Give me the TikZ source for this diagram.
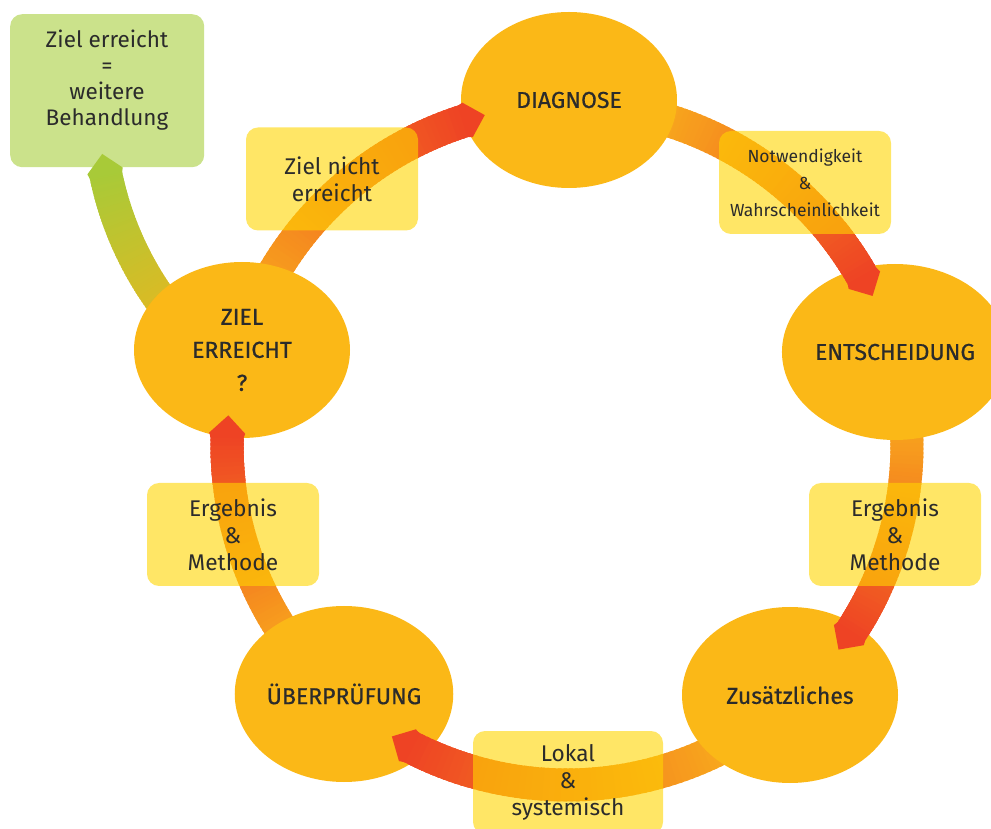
\documentclass[tikz,border=0pt]{standalone}
\usepackage{fontspec}
\setmainfont{Fira Sans}
\newfontfamily\medfont[FakeBold=0.6]{Fira Sans}
\usetikzlibrary{shapes.geometric,calc}
\definecolor{ellfill}{HTML}{FBB817}
\definecolor{boxfill}{HTML}{FFD500}
\definecolor{greenbox}{HTML}{CBE28B}
\definecolor{arrA}{HTML}{F9B11C}
\definecolor{arrB}{HTML}{EE4324}
\definecolor{grnA}{HTML}{EBB61E}
\definecolor{grnB}{HTML}{A8CA38}
\definecolor{txt}{HTML}{2B2B2B}

% gradient band along an arc: center, radius, start angle, end angle, colour0, colour1, first segment index
\newcommand\bandarc[7]{%
 \foreach \i in {#7,...,59}{%
  \pgfmathsetmacro\aa{#3+(#4-#3)*\i/60}%
  \pgfmathsetmacro\ab{#3+(#4-#3)*min(\i+1.6,60)/60}%
  \pgfmathtruncatemacro\pp{round(100*\i/59)}%
  \draw[line width=33pt,color={#6!\pp!#5}] (#1) ++(\aa:#2pt) arc[start angle=\aa,end angle=\ab,radius=#2pt];
 }}
% arrow tip: center, radius, shaft end angle, tip angle, colour
\newcommand\bandtip[5]{%
 \pgfmathsetmacro\ro{#2+18}\pgfmathsetmacro\ri{#2-18}%
 \pgfmathsetmacro\rso{#2+16.5}\pgfmathsetmacro\rsi{#2-16.5}%
 \pgfmathsetmacro\bk{#3+0.8*(#3-#4)/abs(#3-#4)}%
 \fill[#5] ($(#1)+(\bk:\rso pt)$) -- ($(#1)+(#3:\ro pt)$) -- ($(#1)+(#4:#2pt)$) -- ($(#1)+(#3:\ri pt)$) -- ($(#1)+(\bk:\rsi pt)$) -- cycle;}

\begin{document}
\begin{tikzpicture}[x=1pt,y=1pt,
 ell/.style={ellipse, fill=ellfill, minimum width=216pt, minimum height=176pt, inner sep=0pt, text=txt, font=\medfont\fontsize{23}{33}\selectfont, align=center},
 lbl/.style={rounded corners=12pt, fill=boxfill, fill opacity=0.6, text opacity=1, text=txt, align=center, font=\fontsize{22.7}{27}\selectfont, inner sep=0pt, minimum width=172pt, minimum height=103pt},
 gbox/.style={rounded corners=12pt, fill=greenbox, inner sep=0pt, minimum width=194pt, minimum height=153pt},
 plain/.style={text=txt, align=center, inner sep=0pt},
]
\useasboundingbox (0,0) rectangle (991,828);
\coordinate (c) at (567,383);
\coordinate (g) at (429,720);

% green result box
\node[gbox, anchor=north west] (goal) at (10,814) {};
\node[plain, font=\fontsize{22.5}{26}\selectfont] (goaltxt) at (107,748) {Ziel erreicht\\=\\weitere\\Behandlung};

% shafts (first pass, under the ellipses)
\bandarc{g}{330}{224}{191}{grnA}{grnB}{0}
\bandtip{g}{330}{191}{188}{grnB}
\bandarc{c}{340}{160}{107}{arrA}{arrB}{0}
\bandarc{c}{340}{78}{29}{arrA}{arrB}{0}
\bandarc{c}{340}{8}{-34}{arrA}{arrB}{0}
\bandarc{c}{340}{-58}{-118}{arrA}{arrB}{0}
\bandarc{c}{340}{220}{178}{arrA}{arrB}{0}

% ellipses
\node[ell] (diag) at (569,728) {DIAGNOSE};
\node[ell] (ents) at (895,476) {ENTSCHEIDUNG};
\node[ell] (zus) at (790,133) {Zusätzliches};
\node[ell] (ueber) at (344,134) {ÜBERPRÜFUNG};
\node[ell] (ziel) at (242,478) {ZIEL\\ERREICHT\\?};

% arrow ends (second pass, over the ellipses)
\bandarc{c}{340}{160}{107}{arrA}{arrB}{48}
\bandtip{c}{340}{107}{104}{arrB}
\bandarc{c}{340}{78}{29}{arrA}{arrB}{48}
\bandtip{c}{340}{29}{26}{arrB}
\bandarc{c}{340}{8}{-34}{arrA}{arrB}{48}
\bandtip{c}{340}{-34}{-37}{arrB}
\bandarc{c}{340}{-58}{-118}{arrA}{arrB}{48}
\bandtip{c}{340}{-118}{-121}{arrB}
\bandarc{c}{340}{220}{178}{arrA}{arrB}{48}
\bandtip{c}{340}{178}{175}{arrB}

% label boxes
\node[lbl] (nicht) at (332,649) {Ziel nicht\\erreicht};
\node[lbl, font=\fontsize{17.5}{27}\selectfont] (notw) at (805,645.5) {Notwendigkeit\\\&\\Wahrscheinlichkeit};
\node[lbl] (ergr) at (895,293.5) {Ergebnis\\\&\\Methode};
\node[lbl] (ergl) at (233,293.5) {Ergebnis\\\&\\Methode};
\node[lbl, minimum width=190pt] (lokal) at (568,45.5) {Lokal\\\&\\systemisch};
\end{tikzpicture}
\end{document}
